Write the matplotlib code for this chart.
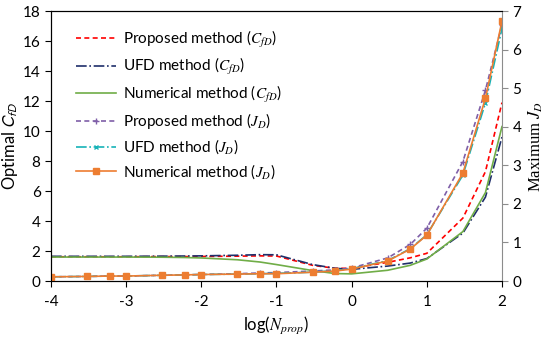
import matplotlib.pyplot as plt
import numpy as np

plt.rcParams['font.family'] = ['Lato', 'DejaVu Sans']
plt.rcParams['mathtext.fontset'] = 'stix'

# log10 of N_prop
logN = [-4, -3.52, -3.22, -3, -2.52, -2.22, -2, -1.52, -1.22, -1,
        -0.52, -0.22, 0, 0.48, 0.78, 1, 1.48, 1.78, 2]

# optimal C_fD (left axis)
cfd_proposed = [1.62, 1.62, 1.62, 1.62, 1.63, 1.63, 1.64, 1.66, 1.68, 1.67,
                1.05, 0.85, 0.85, 1.25, 1.55, 1.85, 4.2, 7.3, 11.9]
cfd_ufd = [1.65, 1.65, 1.65, 1.65, 1.66, 1.67, 1.68, 1.72, 1.76, 1.75,
           1.1, 0.85, 0.78, 1.0, 1.2, 1.5, 3.2, 5.6, 9.6]
cfd_numerical = [1.6, 1.6, 1.6, 1.6, 1.59, 1.57, 1.54, 1.42, 1.27, 1.1,
                 0.7, 0.5, 0.48, 0.72, 1.05, 1.47, 3.3, 5.9, 10.3]

# maximum J_D (right axis)
jd_proposed = [0.11, 0.12, 0.13, 0.13, 0.15, 0.16, 0.17, 0.19, 0.21, 0.22,
               0.26, 0.29, 0.34, 0.6, 0.95, 1.37, 3.1, 4.95, 6.65]
jd_ufd = [0.11, 0.12, 0.13, 0.13, 0.15, 0.16, 0.17, 0.18, 0.19, 0.2,
          0.23, 0.27, 0.32, 0.53, 0.84, 1.2, 2.75, 4.62, 6.55]
jd_numerical = [0.11, 0.12, 0.13, 0.13, 0.15, 0.16, 0.17, 0.18, 0.19, 0.19,
                0.23, 0.26, 0.31, 0.52, 0.83, 1.19, 2.8, 4.74, 6.74]

fig = plt.figure(figsize=(5.5, 3.37), dpi=100)
ax1 = fig.add_axes([0.0927, 0.166, 0.82, 0.801])
ax2 = ax1.twinx()

l1, = ax1.plot(logN, cfd_proposed, '--', color='#ff0000', lw=1.2, dashes=(3, 2),
               label='Proposed method ($C_{fD}$)')
l2, = ax1.plot(logN, cfd_ufd, '-.', color='#1f2f6b', lw=1.2,
               label='UFD method ($C_{fD}$)')
l3, = ax1.plot(logN, cfd_numerical, '-', color='#70ad47', lw=1.2,
               label='Numerical method ($C_{fD}$)')
l4, = ax2.plot(logN, jd_proposed, '--', color='#7f5fa8', lw=1.2, dashes=(3, 2),
               marker='+', ms=4, label='Proposed method ($J_D$)')
l5, = ax2.plot(logN, jd_ufd, '-.', color='#17b3b8', lw=1.2,
               marker='x', ms=3.5, label='UFD method ($J_D$)')
l6, = ax2.plot(logN, jd_numerical, '-', color='#ed7d31', lw=1.2,
               marker='s', ms=4, label='Numerical method ($J_D$)')

ax1.set_xlim(-4, 2)
ax1.set_ylim(0, 18)
ax2.set_ylim(0, 7)
ax1.set_xticks(range(-4, 3))
ax1.set_xticklabels(['-4', '-3', '-2', '-1', '0', '1', '2'])
ax1.set_yticks(range(0, 19, 2))
ax2.set_yticks(range(0, 8))

for ax in (ax1, ax2):
    ax.tick_params(labelsize=11, direction='out', length=4)
ax1.tick_params(axis='x', pad=6)
ax2.spines['right'].set_color('#8c8c8c')
ax2.tick_params(axis='y', colors='#8c8c8c', labelcolor='black')
ax1.spines['right'].set_visible(False)

ax1.set_xlabel('log($N_{prop}$)', fontsize=12)
ax1.set_ylabel('Optimal $C_{fD}$', fontsize=12, labelpad=2,
               family='Lato', math_fontfamily='stixsans')
ax2.set_ylabel('Maximum $J_D$', fontsize=12, family='Liberation Serif', labelpad=4)

ax1.legend(handles=[l1, l2, l3, l4, l5, l6], loc='upper left',
           bbox_to_anchor=(0.025, 0.985), frameon=False, fontsize=11,
           handlelength=2.6, handletextpad=0.5, labelspacing=0.42)

fig.savefig('out.png', dpi=100)
